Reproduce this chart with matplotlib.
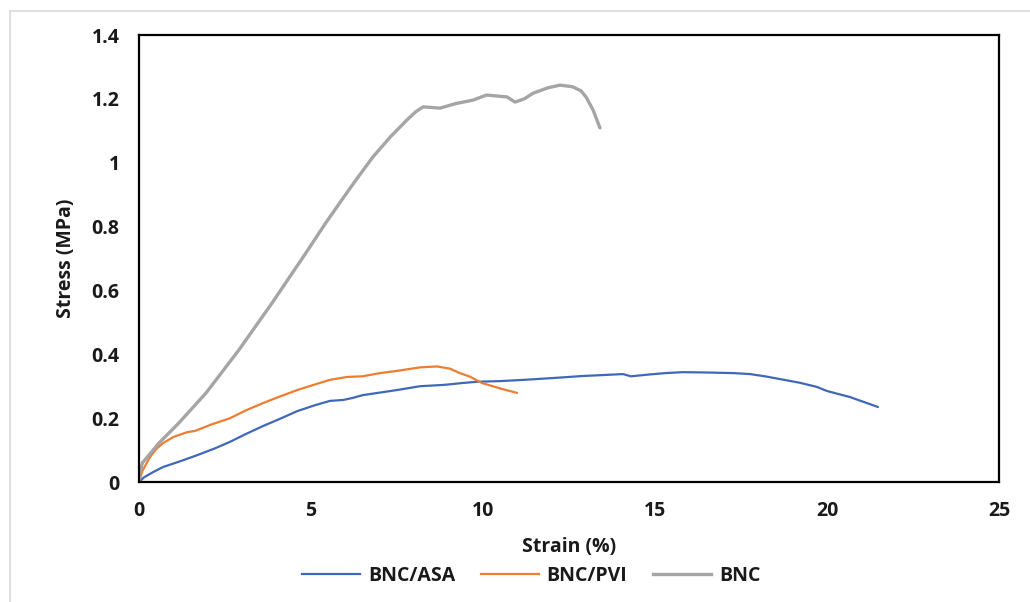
import matplotlib
matplotlib.use("Agg")
import matplotlib.pyplot as plt
from matplotlib.lines import Line2D

plt.rcParams['font.family'] = ['Open Sans', 'DejaVu Sans']

# BNC/ASA
asa_x = [0, 0.15, 0.41, 0.70, 1.2, 1.69, 2.2, 2.65, 3.1, 3.6, 4.1, 4.6, 5.1, 5.55, 5.94, 6.2, 6.5, 7.0, 7.5, 8.17, 8.84, 9.04, 9.4, 9.83,
         10.5, 11.2, 11.95, 12.9, 13.5, 14.07, 14.3, 14.86, 15.3, 15.8, 16.5, 17.3, 17.76, 18.2, 18.7, 19.2, 19.7, 20.0, 20.67, 21.48]
asa_y = [0, 0.015, 0.031, 0.047, 0.065, 0.084, 0.105, 0.126, 0.150, 0.175, 0.198, 0.222, 0.240, 0.254, 0.257, 0.263, 0.272, 0.280, 0.288, 0.300, 0.304, 0.306, 0.310, 0.314,
         0.316, 0.320, 0.325, 0.332, 0.335, 0.338, 0.331, 0.337, 0.341, 0.344, 0.343, 0.341, 0.338, 0.331, 0.321, 0.311, 0.298, 0.285, 0.266, 0.235]

# BNC/PVI
pvi_x = [0, 0.1, 0.32, 0.5, 0.70, 1.0, 1.40, 1.63, 2.1, 2.65, 3.1, 3.6, 4.1, 4.6, 5.1, 5.55, 6.05, 6.5, 7.0, 7.5, 8.17, 8.66,
         9.04, 9.33, 9.62, 9.97, 10.5, 10.99]
pvi_y = [0, 0.035, 0.078, 0.103, 0.122, 0.141, 0.156, 0.160, 0.180, 0.200, 0.224, 0.247, 0.268, 0.288, 0.305, 0.320, 0.329, 0.331, 0.341, 0.348, 0.359, 0.362,
         0.355, 0.341, 0.330, 0.310, 0.293, 0.279]

# BNC
bnc_x = [0, 0.04, 0.1, 0.24, 0.58, 1.16, 1.95, 2.9, 3.87, 4.85, 5.4, 5.84, 6.3, 6.80, 7.3, 7.79, 8.05, 8.26, 8.75, 9.2, 9.71, 10.1,
         10.7, 10.93, 11.2, 11.46, 11.9, 12.24, 12.6, 12.85, 13.0, 13.2, 13.4]
bnc_y = [0, 0.035, 0.06, 0.078, 0.122, 0.185, 0.279, 0.413, 0.561, 0.717, 0.807, 0.875, 0.945, 1.018, 1.080, 1.134, 1.160, 1.175, 1.171, 1.185, 1.196, 1.212,
         1.206, 1.190, 1.200, 1.218, 1.235, 1.243, 1.238, 1.225, 1.205, 1.165, 1.109]

series_names = ['BNC/ASA', 'BNC/PVI', 'BNC']
colors = ['#4068B8', '#ED7D31', '#A5A5A5']
x_ticks = [0, 5, 10, 15, 20, 25]
y_ticks = [0, 0.2, 0.4, 0.6, 0.8, 1, 1.2, 1.4]
y_tick_labels = ['0', '0.2', '0.4', '0.6', '0.8', '1', '1.2', '1.4']

W, H = 1030, 602
fig = plt.figure(figsize=(W / 100, H / 100), dpi=100)
ax = fig.add_axes([139 / W, 1 - 482 / H, (999 - 139) / W, (482 - 35) / H])

kw = dict(solid_joinstyle='round', solid_capstyle='round')
ax.plot(asa_x, asa_y, color=colors[0], lw=1.6, label=series_names[0], **kw)
ax.plot(pvi_x, pvi_y, color=colors[1], lw=1.6, label=series_names[1], **kw)
ax.plot(bnc_x, bnc_y, color=colors[2], lw=2.4, label=series_names[2], **kw)

ax.set_xlim(0, 25)
ax.set_ylim(0, 1.4)
ax.set_xticks(x_ticks)
ax.set_yticks(y_ticks)
ax.set_yticklabels(y_tick_labels)
ax.tick_params(length=0, labelsize=14, colors='#1a1a1a', pad=14)
for lab in ax.get_xticklabels() + ax.get_yticklabels():
    lab.set_fontweight('bold')
for s in ax.spines.values():
    s.set_linewidth(1.6)
    s.set_color('black')

fig.text(569 / W, 1 - 547 / H, 'Strain (%)', ha='center', va='center', fontsize=14,
         fontweight='bold', color='#1a1a1a')
fig.text(66 / W, 1 - 258 / H, 'Stress (MPa)', ha='center', va='center', rotation=90,
         fontsize=14, fontweight='bold', color='#1a1a1a')

handles = [Line2D([], [], color=colors[0], lw=1.6),
           Line2D([], [], color=colors[1], lw=1.6),
           Line2D([], [], color=colors[2], lw=2.4)]
fig.legend(handles, series_names, loc='center', bbox_to_anchor=(531 / W, 1 - 576 / H), ncol=3,
           frameon=False, prop={'size': 14, 'weight': 'bold'}, handlelength=3.0,
           columnspacing=1.3, handletextpad=0.4, labelcolor='#1a1a1a')

# light gray outer frame
fig.add_artist(Line2D([10 / W, 10 / W], [0, 1 - 11 / H], color='#d9d9d9', lw=1.2))
fig.add_artist(Line2D([10 / W, 1], [1 - 11 / H, 1 - 11 / H], color='#d9d9d9', lw=1.2))

fig.savefig('out.png', dpi=100)
